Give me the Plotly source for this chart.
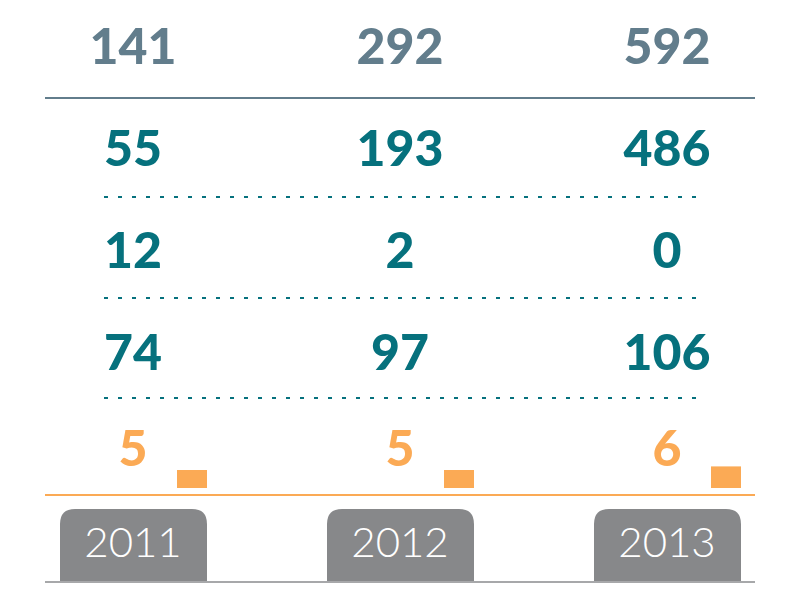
import plotly.graph_objects as go

years = ["2011", "2012", "2013"]
totals = [141, 292, 592]
row_a = [55, 193, 486]
row_b = [12, 2, 0]
row_c = [74, 97, 106]
small = [5, 5, 6]

slate = "#627D8C"
teal = "#06717D"
orange = "#FBAA55"
tabgrey = "#87888A"
linegrey = "#A7A8AA"

col_x = [133, 400, 667]
row_y = [51, 153, 255, 357, 453]
bar_off = 59
num_font = dict(family="Lato", size=50, weight=900)

fig = go.Figure()

# numbers, one row per series
rows = [(totals, slate), (row_a, teal), (row_b, teal), (row_c, teal), (small, orange)]
for (vals, colour), y in zip(rows, row_y):
    fig.add_trace(go.Scatter(
        x=col_x, y=[y] * len(vals), mode="text",
        text=[str(v) for v in vals],
        textfont=dict(color=colour, **num_font),
        hoverinfo="skip"))

# year labels inside the tabs
fig.add_trace(go.Scatter(
    x=col_x, y=[546] * len(years), mode="text", text=years,
    textfont=dict(family="Lato", size=42, weight=300, color="white"),
    hoverinfo="skip"))

# small orange bars on an overlaid axis (3.6 px per unit, base at y=488)
fig.add_trace(go.Bar(
    x=[c + bar_off for c in col_x], y=small, width=30,
    marker=dict(color=orange, line_width=0),
    xaxis="x", yaxis="y2", hoverinfo="skip"))

shapes = []
# top solid line
shapes.append(dict(type="line", x0=45, x1=755, y0=98, y1=98,
                   line=dict(color=slate, width=2)))
# dotted separators
for y in [197, 298, 398]:
    shapes.append(dict(type="line", x0=104, x1=696, y0=y, y1=y,
                       line=dict(color=teal, width=2, dash="4px,10px")))
# orange baseline
shapes.append(dict(type="line", x0=45, x1=755, y0=495, y1=495,
                   line=dict(color=orange, width=2)))
# tabs
r = 15
for c in col_x:
    x0, x1, y0, y1 = c - 73, c + 74, 509, 582
    path = (f"M {x0},{y1} L {x0},{y0 + r} Q {x0},{y0} {x0 + r},{y0} "
            f"L {x1 - r},{y0} Q {x1},{y0} {x1},{y0 + r} L {x1},{y1} Z")
    shapes.append(dict(type="path", path=path, fillcolor=tabgrey,
                       line=dict(width=0), layer="below"))
# bottom grey line
shapes.append(dict(type="line", x0=45, x1=755, y0=582, y1=582,
                   line=dict(color=linegrey, width=2)))

fig.update_layout(
    width=800, height=600,
    margin=dict(l=0, r=0, t=0, b=0),
    paper_bgcolor="white", plot_bgcolor="white",
    showlegend=False,
    shapes=shapes,
    xaxis=dict(range=[8, 808], visible=False, fixedrange=True),
    yaxis=dict(range=[608, 8], visible=False, fixedrange=True),
    yaxis2=dict(overlaying="y", range=[-120 / 3.6, 480 / 3.6],
                visible=False, fixedrange=True),
)

fig.write_html("out.html")
